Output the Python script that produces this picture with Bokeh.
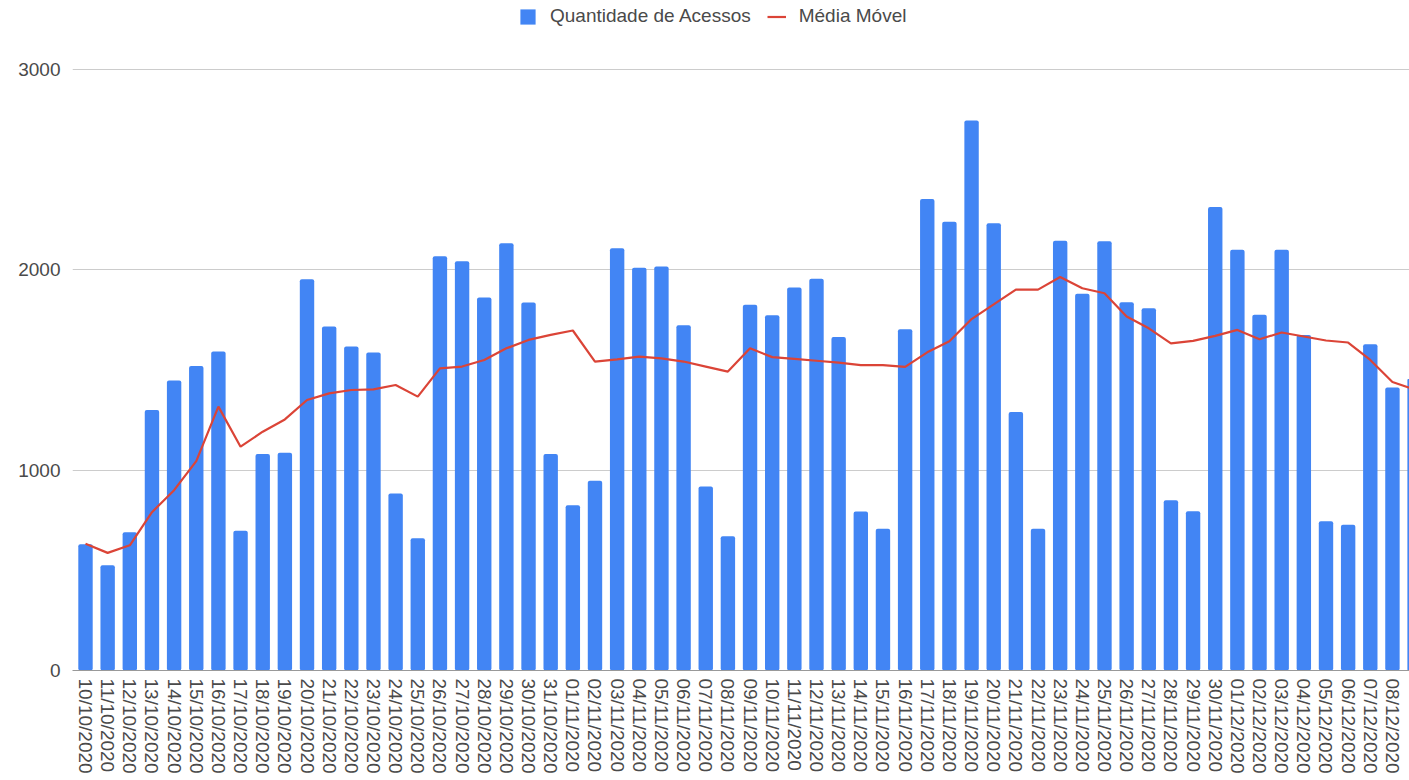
from bokeh.plotting import figure
from bokeh.models import Range1d, FixedTicker, Legend, LegendItem, ColumnDataSource
from bokeh.embed import file_html
from bokeh.resources import INLINE

datas = [
    "10/10/2020", "11/10/2020", "12/10/2020", "13/10/2020", "14/10/2020", "15/10/2020",
    "16/10/2020", "17/10/2020", "18/10/2020", "19/10/2020", "20/10/2020", "21/10/2020",
    "22/10/2020", "23/10/2020", "24/10/2020", "25/10/2020", "26/10/2020", "27/10/2020",
    "28/10/2020", "29/10/2020", "30/10/2020", "31/10/2020", "01/11/2020", "02/11/2020",
    "03/11/2020", "04/11/2020", "05/11/2020", "06/11/2020", "07/11/2020", "08/11/2020",
    "09/11/2020", "10/11/2020", "11/11/2020", "12/11/2020", "13/11/2020", "14/11/2020",
    "15/11/2020", "16/11/2020", "17/11/2020", "18/11/2020", "19/11/2020", "20/11/2020",
    "21/11/2020", "22/11/2020", "23/11/2020", "24/11/2020", "25/11/2020", "26/11/2020",
    "27/11/2020", "28/11/2020", "29/11/2020", "30/11/2020", "01/12/2020", "02/12/2020",
    "03/12/2020", "04/12/2020", "05/12/2020", "06/12/2020", "07/12/2020", "08/12/2020",
    "09/12/2020",
]

acessos = [
    630, 525, 690, 1300, 1447, 1520, 1592, 697, 1080, 1087,
    1953, 1717, 1617, 1587, 883, 660, 2067, 2042, 1862, 2133,
    1837, 1080, 825, 947, 2107, 2010, 2017, 1723, 918, 670,
    1825, 1773, 1912, 1955, 1665, 794, 708, 1703, 2353, 2240,
    2745, 2232, 1290, 708, 2145, 1880, 2142, 1838, 1808, 850,
    795, 2313, 2100, 1775, 2100, 1675, 745, 728, 1628, 1413,
    1455,
]

media_movel = [
    633, 587, 625, 790, 900, 1045, 1317, 1117, 1192, 1253,
    1350, 1383, 1400, 1403, 1425, 1367, 1508, 1517, 1550, 1608,
    1650, 1675, 1697, 1542, 1553, 1567, 1558, 1542, 1517, 1492,
    1608, 1564, 1555, 1546, 1537, 1524, 1524, 1515, 1588, 1643,
    1754, 1827, 1901, 1901, 1964, 1908, 1883, 1767, 1708, 1633,
    1645, 1670, 1700, 1653, 1687, 1667, 1647, 1637, 1550, 1440,
    1402,
]

y_ticks = [0, 1000, 2000, 3000]

FONT = "Liberation Sans"
BLUE = "#4285F4"
RED = "#DB4437"
TXT = "#4a4a4a"

idx = list(range(len(datas)))
src = ColumnDataSource(dict(x=idx, acessos=acessos, media=media_movel))

p = figure(width=1409, height=780, output_backend="svg", toolbar_location=None,
           x_range=Range1d(-0.587, 59.77), y_range=Range1d(0, 3344),
           min_border_left=72, min_border_right=0, min_border_top=0,
           min_border_bottom=110)
p.outline_line_color = None
p.background_fill_color = "white"
p.border_fill_color = "white"

bars = p.vbar(x="x", top="acessos", width=0.65, source=src,
              fill_color=BLUE, line_color=None, border_radius=2)
line = p.line(x="x", y="media", source=src, line_color=RED, line_width=2.2)

legend = Legend(
    items=[LegendItem(label="Quantidade de Acessos", renderers=[bars]),
           LegendItem(label="Média Móvel", renderers=[line])],
    orientation="horizontal", location=(446, 643),
    glyph_width=19, glyph_height=19, label_standoff=13, spacing=16,
    padding=0, margin=0, border_line_alpha=0, background_fill_alpha=0,
    label_text_font=FONT, label_text_font_size="19px", label_text_color=TXT,
    label_height=19,
)
p.add_layout(legend)

p.xaxis.ticker = FixedTicker(ticks=idx)
p.xaxis.major_label_overrides = {i: d for i, d in zip(idx, datas)}
p.xaxis.major_label_orientation = "vertical"
p.xaxis.major_tick_line_color = None
p.xaxis.major_tick_out = 0
p.xaxis.major_tick_in = 0
p.xaxis.minor_tick_line_color = None
p.xaxis.axis_line_color = "#999999"
p.xaxis.major_label_standoff = 8
p.xaxis.major_label_text_font = FONT
p.xaxis.major_label_text_font_size = "19px"
p.xaxis.major_label_text_color = TXT

p.yaxis.ticker = FixedTicker(ticks=y_ticks)
p.yaxis.axis_line_color = None
p.yaxis.major_tick_line_color = None
p.yaxis.major_tick_out = 0
p.yaxis.major_tick_in = 0
p.yaxis.minor_tick_line_color = None
p.yaxis.major_label_standoff = 12
p.yaxis.major_label_text_font = FONT
p.yaxis.major_label_text_font_size = "19px"
p.yaxis.major_label_text_color = TXT

p.xgrid.visible = False
p.ygrid.ticker = FixedTicker(ticks=y_ticks[1:])
p.ygrid.grid_line_color = "#cccccc"

open("out.html", "w").write(file_html(p, INLINE))
